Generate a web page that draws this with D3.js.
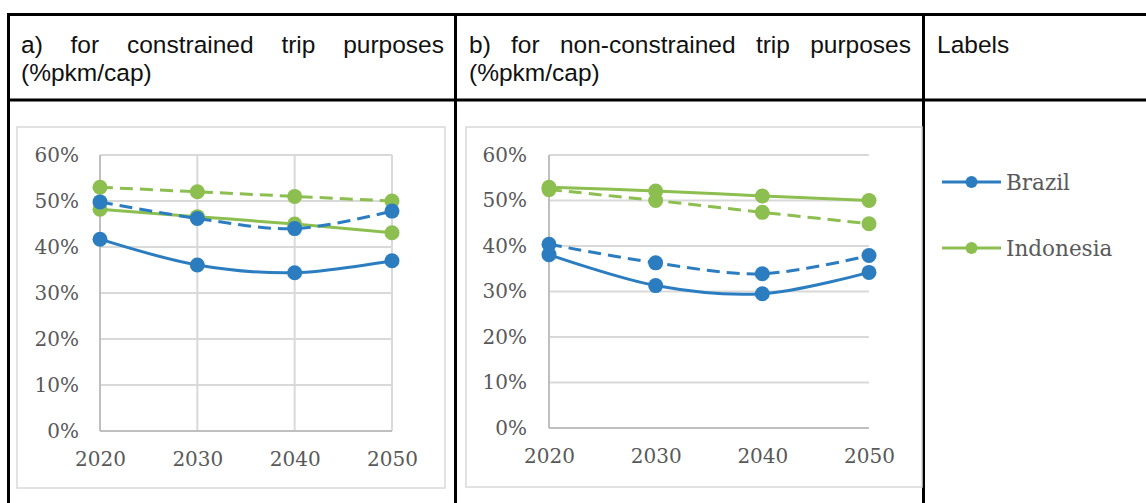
<!DOCTYPE html>
<html>
<head>
<meta charset="utf-8">
<script src="https://cdn.jsdelivr.net/npm/d3@7"></script>
<style>
  html, body { margin: 0; padding: 0; background: #fff; }
  svg { display: block; }
</style>
</head>
<body>
<svg id="fig" width="1146" height="503"></svg>
<script>
// Shared categories and axis ticks
const years = ["2020", "2030", "2040", "2050"];
const yTicks = [0, 0.1, 0.2, 0.3, 0.4, 0.5, 0.6];

// a) constrained trip purposes
const brazilConstrainedSolid = [0.417, 0.361, 0.344, 0.370];
const brazilConstrainedDashed = [0.498, 0.462, 0.440, 0.478];
const indonesiaConstrainedSolid = [0.482, 0.466, 0.450, 0.431];
const indonesiaConstrainedDashed = [0.530, 0.520, 0.510, 0.500];

// b) non-constrained trip purposes
const brazilFreeSolid = [0.381, 0.313, 0.295, 0.342];
const brazilFreeDashed = [0.404, 0.363, 0.339, 0.379];
const indonesiaFreeSolid = [0.529, 0.521, 0.510, 0.500];
const indonesiaFreeDashed = [0.524, 0.500, 0.474, 0.449];

// Header texts and legend entries
const headerA = ["a)", "for", "constrained", "trip", "purposes"];
const headerB = ["b)", "for", "non-constrained", "trip", "purposes"];
const headerSecond = "(%pkm/cap)";
const headerLabels = "Labels";
const legendNames = ["Brazil", "Indonesia"];

const BLUE = "#2b7dc0";
const GREEN = "#8cbf4f";
const GRID = "#d9d9d9";
const AXIS = "#bfbfbf";
const TICK_TEXT = "#595959";

const svg = d3.select("#fig");

// ---------- table frame ----------
const frame = svg.append("g");
const tbl = { left: 8.5, top: 14.5, head: 100, div1: 455.5, div2: 923.5, right: 1148, bottom: 510 };
frame.append("line").attr("x1", tbl.left - 1.5).attr("x2", tbl.right).attr("y1", tbl.top).attr("y2", tbl.top);
frame.append("line").attr("x1", tbl.left - 1.5).attr("x2", tbl.right).attr("y1", tbl.head).attr("y2", tbl.head);
[tbl.left, tbl.div1, tbl.div2].forEach(x => {
  frame.append("line").attr("x1", x).attr("x2", x).attr("y1", tbl.top - 1.5).attr("y2", tbl.bottom);
});
frame.selectAll("line").attr("stroke", "#000").attr("stroke-width", 3);

// ---------- header text ----------
const headFont = "'Liberation Sans', Arial, sans-serif";
const headSize = 24.5;
function justified(words, x0, x1, y) {
  const g = svg.append("g");
  const t = g.selectAll("text").data(words).join("text")
    .attr("y", y)
    .attr("font-family", headFont)
    .attr("font-size", headSize)
    .attr("fill", "#111")
    .text(d => d);
  const widths = t.nodes().map(n => n.getComputedTextLength());
  const total = d3.sum(widths);
  const gap = (x1 - x0 - total) / (words.length - 1);
  let x = x0;
  t.attr("x", (d, i) => { const xi = x; x += widths[i] + gap; return xi; });
}
justified(headerA, 21, 444, 53);
justified(headerB, 469, 911, 53);
[[21, headerSecond], [469, headerSecond], [937, headerLabels]].forEach(([x, s], i) => {
  svg.append("text")
    .attr("x", x).attr("y", i < 2 ? 81 : 53)
    .attr("font-family", headFont).attr("font-size", headSize).attr("fill", "#111")
    .text(s);
});

// ---------- chart panels ----------
function panel(cfg) {
  const g = svg.append("g");
  // chart area border
  g.append("rect")
    .attr("x", cfg.box[0]).attr("y", cfg.box[1])
    .attr("width", cfg.box[2] - cfg.box[0]).attr("height", cfg.box[3] - cfg.box[1])
    .attr("fill", "#fff").attr("stroke", GRID).attr("stroke-width", 1.5);

  const x = d3.scalePoint().domain(years).range([cfg.x0, cfg.x1]);
  const y = d3.scaleLinear().domain([0, 0.6]).range([cfg.y0, cfg.y1]);

  // horizontal gridlines
  g.append("g").selectAll("line").data(yTicks.slice(1)).join("line")
    .attr("x1", cfg.x0).attr("x2", cfg.x1)
    .attr("y1", d => y(d)).attr("y2", d => y(d))
    .attr("stroke", GRID).attr("stroke-width", 2);
  // vertical gridlines
  if (cfg.vgrid) {
    g.append("g").selectAll("line").data(years.slice(1)).join("line")
      .attr("x1", d => x(d)).attr("x2", d => x(d))
      .attr("y1", cfg.y1).attr("y2", cfg.y0)
      .attr("stroke", GRID).attr("stroke-width", 2);
  }
  // axis lines
  g.append("line").attr("x1", cfg.x0).attr("x2", cfg.x1).attr("y1", cfg.y0).attr("y2", cfg.y0)
    .attr("stroke", AXIS).attr("stroke-width", 2);
  g.append("line").attr("x1", cfg.x0).attr("x2", cfg.x0).attr("y1", cfg.y1).attr("y2", cfg.y0)
    .attr("stroke", AXIS).attr("stroke-width", 2);

  // tick labels through d3 axes
  const yAxis = d3.axisLeft(y).tickValues(yTicks).tickFormat(d3.format(".0%")).tickSize(0).tickPadding(cfg.x0 - cfg.yLabelRight);
  const ya = g.append("g").attr("transform", `translate(${cfg.x0},0)`).call(yAxis);
  const xAxis = d3.axisBottom(x).tickSize(0).tickPadding(21);
  const xa = g.append("g").attr("transform", `translate(0,${cfg.y0})`).call(xAxis);
  [ya, xa].forEach(a => {
    a.select(".domain").remove();
    a.selectAll("text")
      .attr("font-family", "'DejaVu Serif', serif")
      .attr("font-size", 20)
      .attr("fill", TICK_TEXT);
  });

  const line = d3.line().x((d, i) => x(years[i])).y(d => y(d)).curve(d3.curveCardinal.tension(0));
  cfg.series.forEach(s => {
    const sg = g.append("g");
    sg.append("path").datum(s.values)
      .attr("d", line).attr("fill", "none")
      .attr("stroke", s.color).attr("stroke-width", 3)
      .attr("stroke-dasharray", s.dashed ? "13,7" : null);
    sg.selectAll("circle").data(s.values).join("circle")
      .attr("cx", (d, i) => x(years[i])).attr("cy", d => y(d))
      .attr("r", 7.5).attr("fill", s.color);
  });
}

panel({
  box: [17, 127, 445, 488],
  x0: 100, x1: 392, y0: 431, y1: 155, yLabelRight: 79, vgrid: true,
  series: [
    { values: brazilConstrainedSolid, color: BLUE, dashed: false },
    { values: indonesiaConstrainedSolid, color: GREEN, dashed: false },
    { values: indonesiaConstrainedDashed, color: GREEN, dashed: true },
    { values: brazilConstrainedDashed, color: BLUE, dashed: true }
  ]
});

panel({
  box: [466, 127, 922, 487],
  x0: 549, x1: 869, y0: 428, y1: 155, yLabelRight: 527, vgrid: false,
  series: [
    { values: brazilFreeSolid, color: BLUE, dashed: false },
    { values: brazilFreeDashed, color: BLUE, dashed: true },
    { values: indonesiaFreeDashed, color: GREEN, dashed: true },
    { values: indonesiaFreeSolid, color: GREEN, dashed: false }
  ]
});

// ---------- legend ----------
const legend = svg.append("g");
const legendColor = d3.scaleOrdinal().domain(legendNames).range([BLUE, GREEN]);
const legendY = d3.scalePoint().domain(legendNames).range([182, 248]);
legendNames.forEach(name => {
  const ly = legendY(name);
  legend.append("line").attr("x1", 942).attr("x2", 1001).attr("y1", ly).attr("y2", ly)
    .attr("stroke", legendColor(name)).attr("stroke-width", 3);
  legend.append("circle").attr("cx", 971.5).attr("cy", ly).attr("r", 6).attr("fill", legendColor(name));
  legend.append("text").attr("x", 1006).attr("y", ly).attr("dy", "0.35em")
    .attr("font-family", "'DejaVu Serif', serif").attr("font-size", 21.5)
    .attr("fill", TICK_TEXT).text(name);
});
</script>
</body>
</html>
